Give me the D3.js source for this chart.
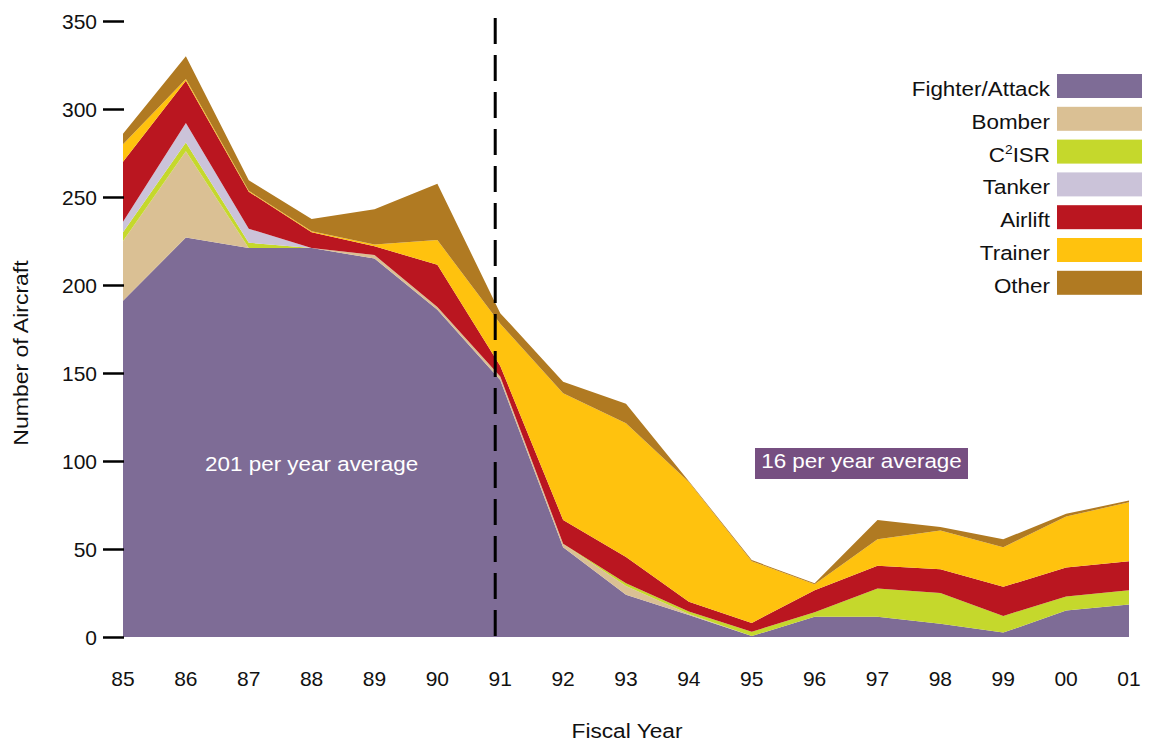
<!DOCTYPE html>
<html>
<head>
<meta charset="utf-8">
<script src="https://cdn.jsdelivr.net/npm/d3@7"></script>
<style>
  body { margin: 0; background: #fff; }
  svg { display: block; font-family: "Liberation Sans", Arial, sans-serif; }
</style>
</head>
<body>
<div id="chart"></div>
<script>
// fiscal years and aircraft counts per category
const years = ["85","86","87","88","89","90","91","92","93","94","95","96","97","98","99","00","01"];
const fighterAttack = [191, 227, 221, 221, 215, 186, 146, 51, 24, 12.5, 0.5, 11.5, 11.5, 7.5, 2.5, 15, 18.5];
const bomber        = [34, 49, 0, 0, 2, 1.5, 2, 2, 5, 0.5, 0, 0, 0, 0, 0, 0, 0];
const c2isr         = [5, 5, 3, 0, 0, 0, 0, 0, 1.5, 1.5, 2.5, 2.5, 16, 17.5, 9.5, 8, 8];
const tanker        = [6, 11, 8, 0, 0, 0, 0, 0, 0, 0, 0, 0, 0, 0, 0, 0, 0];
const airlift       = [34, 24, 21, 9, 5, 24, 6, 13.5, 15, 5.5, 5, 12.5, 13, 13.5, 16.5, 16.5, 16.5];
const trainer       = [10, 1, 0.5, 0.5, 1, 14, 24, 72, 76, 68, 35, 3.5, 15, 22, 22.5, 29, 33.5];
const other         = [6, 13, 6, 7, 20, 32, 6, 6.5, 11, 0.5, 0.7, 0.5, 11, 2, 4.5, 1.5, 1];
const yTicks = [0, 50, 100, 150, 200, 250, 300, 350];

const keys = ["Fighter/Attack", "Bomber", "C2ISR", "Tanker", "Airlift", "Trainer", "Other"];
const seriesValues = [fighterAttack, bomber, c2isr, tanker, airlift, trainer, other];
const colors = ["#7e6c96", "#dac094", "#c5d82c", "#cbc3d9", "#ba1620", "#ffc20e", "#b07a22"];

const table = years.map((yr, i) => {
  const row = { year: yr };
  keys.forEach((k, j) => row[k] = seriesValues[j][i]);
  return row;
});

const width = 1149, height = 742;
const svg = d3.select("#chart").append("svg")
  .attr("width", width)
  .attr("height", height);

const x = d3.scalePoint().domain(years).range([123, 1129]);
const y = d3.scaleLinear().domain([0, 350]).range([637, 21]);
const color = d3.scaleOrdinal().domain(keys).range(colors);

const stacked = d3.stack().keys(keys)(table);

const area = d3.area()
  .x(d => x(d.data.year))
  .y0(d => y(d[0]))
  .y1(d => y(d[1]));

svg.append("g")
  .selectAll("path")
  .data(stacked)
  .join("path")
  .attr("fill", d => color(d.key))
  .attr("d", area);

// dashed divider just before FY91
const step = x.step();
svg.append("line")
  .attr("x1", x("91") - step * 0.08)
  .attr("x2", x("91") - step * 0.08)
  .attr("y1", 18)
  .attr("y2", y(0))
  .attr("stroke", "#000")
  .attr("stroke-width", 3)
  .attr("stroke-dasharray", "26,11");

// y axis: ticks only
const yAxis = svg.append("g")
  .attr("transform", "translate(124,0)")
  .call(d3.axisLeft(y).tickValues(yTicks).tickSize(21).tickPadding(6));
yAxis.select(".domain").remove();
yAxis.selectAll(".tick line").attr("stroke", "#000").attr("stroke-width", 2.5);
yAxis.selectAll(".tick text")
  .attr("font-size", 21)
  .attr("font-family", "Liberation Sans, Arial, sans-serif")
  .attr("fill", "#111")
  .attr("dy", "0.37em");

// x labels
svg.append("g")
  .selectAll("text")
  .data(years)
  .join("text")
  .attr("x", d => x(d))
  .attr("y", 686)
  .attr("text-anchor", "middle")
  .attr("font-size", 21)
  .attr("fill", "#111")
  .text(d => d);

svg.append("text")
  .attr("transform", "translate(627,738) scale(1.08,1)")
  .attr("text-anchor", "middle")
  .attr("font-size", 21)
  .attr("fill", "#111")
  .text("Fiscal Year");

svg.append("text")
  .attr("transform", "translate(28,353) rotate(-90) scale(1.15,1)")
  .attr("text-anchor", "middle")
  .attr("font-size", 20)
  .attr("fill", "#111")
  .text("Number of Aircraft");

// averages
svg.append("text")
  .attr("transform", `translate(${(x("85") + x("91")) / 2},${y(100) + 10}) scale(1.15,1)`)
  .attr("text-anchor", "middle")
  .attr("font-size", 19.5)
  .attr("fill", "#fff")
  .text("201 per year average");

svg.append("rect")
  .attr("x", 755)
  .attr("y", 448)
  .attr("width", 213)
  .attr("height", 31)
  .attr("fill", "#764f81");

svg.append("text")
  .attr("transform", `translate(861.5,${y(100) + 7}) scale(1.15,1)`)
  .attr("text-anchor", "middle")
  .attr("font-size", 19.5)
  .attr("fill", "#fff")
  .text("16 per year average");

// legend
const legend = svg.append("g")
  .selectAll("g")
  .data(keys)
  .join("g")
  .attr("transform", (d, i) => `translate(0,${74 + i * 32.8})`);

legend.append("rect")
  .attr("x", 1057)
  .attr("y", 0)
  .attr("width", 85)
  .attr("height", 24)
  .attr("fill", d => color(d));

const legText = legend.append("text")
  .attr("transform", "translate(1050,22) scale(1.15,1)")
  .attr("text-anchor", "end")
  .attr("font-size", 19.5)
  .attr("fill", "#111");

legText.each(function(d) {
  const t = d3.select(this);
  if (d === "C2ISR") {
    t.append("tspan").text("C");
    t.append("tspan").attr("font-size", 12).attr("dy", -8).text("2");
    t.append("tspan").attr("dy", 8).text("ISR");
  } else {
    t.text(d);
  }
});
</script>
</body>
</html>
